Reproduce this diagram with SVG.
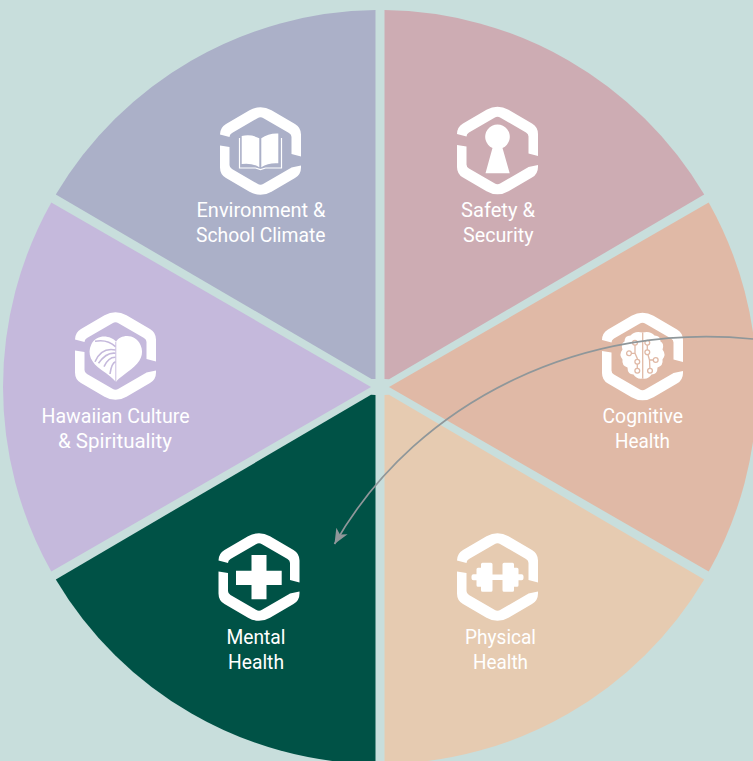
<svg xmlns="http://www.w3.org/2000/svg" xmlns:xlink="http://www.w3.org/1999/xlink" width="753" height="761" viewBox="0 0 753 761">
<style>
.lbl{font-family:"Roboto","Liberation Sans",sans-serif;font-size:20.5px;font-weight:400;fill:#fff}
.ico{fill:#fff}
.conn{fill:none;stroke:#8f979a;stroke-width:1.7}
</style>
<defs>
<g id="frame">
<path class="ico" d="M-40.5,-16.5 Q-40.5,-23.6 -34.5,-27.1 L-11,-40.65 Q0,-47 11,-40.65 L34.5,-27.1 Q40.5,-23.6 40.5,-16.5 L40.5,5.5 L31,3 L31,-14 Q31,-16.6 28.5,-18 L3,-32.8 Q0,-34.5 -3,-32.8 L-28.5,-18 Q-31,-16.6 -31,-14 Z"/>
<path class="ico" d="M40.5,14.5 L40.5,16.5 Q40.5,23.6 34.5,27.1 L11,40.65 Q0,47 -11,40.65 L-34.5,27.1 Q-40.5,23.6 -40.5,16.5 L-40.5,-5.5 L-31,-4 L-31,14 Q-31,16.6 -28.5,18 L-3,32.8 Q0,34.5 3,32.8 L28.5,18 Q30,17.2 31,16.5 Z"/>
</g>
<marker id="arrow" markerUnits="userSpaceOnUse" markerWidth="18" markerHeight="16" refX="15" refY="8" orient="auto">
<path d="M15,8 L0,1.5 L4,8 L0,14.5 Z" fill="#8f979a"/>
</marker>
</defs>
<rect width="753" height="761" fill="#c8dedc"/>
<g id="node-environment">
<path fill="#abb0c8" d="M375.5,10 A377,377 0 0 0 55.8,194.6 L371.5,379 L375.5,379 Z"/>
<use xlink:href="#frame" href="#frame" x="260.5" y="151"/>
<g transform="translate(260.5 151)">
<path class="ico" d="M-18.8,-15 Q-9,-17 -1.2,-12.7 L-1.2,16.3 Q-9,11.5 -18.8,13 Z"/>
<path class="ico" d="M0.8,-12.7 Q8,-18 17.8,-17.5 L17.8,12.3 Q8,11.5 0.8,16.3 Z"/>
<path d="M-21,-13 V17 H-5 L0,18.5 L5,17 H21 V-13" fill="none" stroke="#fff" stroke-width="1.2"/>
</g>
<text class="lbl" x="196.5" y="217" textLength="129" lengthAdjust="spacingAndGlyphs">Environment &amp;</text>
<text class="lbl" x="196" y="242" textLength="129.5" lengthAdjust="spacingAndGlyphs">School Climate</text>
</g>
<g id="node-safety">
<path fill="#cdacb3" d="M384.5,10 A377,377 0 0 1 704.2,194.6 L389,379.2 L384.5,379 Z"/>
<use xlink:href="#frame" href="#frame" x="497.5" y="150.5"/>
<path class="ico" transform="translate(497.5 150.5)" d="M-5,-2.5 A12.3,12.3 0 1 1 5,-2.5 Q5.5,-1 6,1 L12.2,22.8 L-12,22.8 L-6,1 Q-5.5,-1 -5,-2.5 Z"/>
<text class="lbl" x="461" y="217" textLength="74" lengthAdjust="spacingAndGlyphs">Safety &amp;</text>
<text class="lbl" x="463" y="242" textLength="70.5" lengthAdjust="spacingAndGlyphs">Security</text>
</g>
<g id="node-cognitive">
<path fill="#e0b9a6" d="M708.7,202.4 A377,377 0 0 1 708.7,571.6 L389,387 Z"/>
<use xlink:href="#frame" href="#frame" x="642.5" y="356.5"/>
<g transform="translate(642.5 356.5)">
<path class="ico" d="M0,-24 Q8,-26 12,-21 Q18,-21 18,-15 Q22,-13 20,-7 Q24,-2 20,3 Q21,9 15,11 Q15,18 9,18 Q6,23 0,22 Q-6,23 -9,18 Q-15,18 -15,11 Q-21,9 -20,3 Q-24,-2 -20,-7 Q-22,-13 -18,-15 Q-18,-21 -12,-21 Q-8,-26 0,-24 Z"/>
<g fill="#fff" stroke="#e0b9a6" stroke-width="1.3">
<path fill="none" d="M0.2,-24 V22 M-7.5,-13.8 V-3.2 H-13.5 M-7.5,-3.2 L-5.2,2 V14.2 M4.8,-13.8 V-4.2 L7,3.5 H13.2 M7,3.5 L7.5,14.2"/>
<circle cx="-7.5" cy="-13.8" r="2.4"/><circle cx="-13.5" cy="-3.2" r="2.4"/><circle cx="-5.2" cy="5.2" r="2.4"/><circle cx="-5.2" cy="14.2" r="2.4"/>
<circle cx="4.8" cy="-13.8" r="2.4"/><circle cx="4.8" cy="-4.2" r="2.4"/><circle cx="13.2" cy="3.5" r="2.4"/><circle cx="7.5" cy="14.2" r="2.4"/>
</g>
</g>
<text class="lbl" x="602.5" y="422.5" textLength="80.5" lengthAdjust="spacingAndGlyphs">Cognitive</text>
<text class="lbl" x="615" y="447.5" textLength="55" lengthAdjust="spacingAndGlyphs">Health</text>
</g>
<g id="node-physical">
<path fill="#e6cbb1" d="M384.5,764 A377,377 0 0 0 704.2,579.4 L389,394.8 L384.5,395 Z"/>
<use xlink:href="#frame" href="#frame" x="497.5" y="577"/>
<path class="ico" transform="translate(497.5 577.3)" d="M-26,-1 Q-26,-3 -24,-3 H-21 V-8 Q-21,-9.5 -19.5,-9.5 H-16.5 V-13 Q-16.5,-14.5 -15,-14.5 H-6.5 Q-5,-14.5 -5,-13 V-2.7 H5 V-13 Q5,-14.5 6.5,-14.5 H15 Q16.5,-14.5 16.5,-13 V-9.5 H19.5 Q21,-9.5 21,-8 V-3 H24 Q26,-3 26,-1 V1 Q26,3 24,3 H21 V8 Q21,9.5 19.5,9.5 H16.5 V13 Q16.5,14.5 15,14.5 H6.5 Q5,14.5 5,13 V2.7 H-5 V13 Q-5,14.5 -6.5,14.5 H-15 Q-16.5,14.5 -16.5,13 V9.5 H-19.5 Q-21,9.5 -21,8 V3 H-24 Q-26,3 -26,1 Z"/>
<text class="lbl" x="465" y="644" textLength="71" lengthAdjust="spacingAndGlyphs">Physical</text>
<text class="lbl" x="473" y="669" textLength="55" lengthAdjust="spacingAndGlyphs">Health</text>
</g>
<g id="node-mental">
<path fill="#005246" d="M375.5,764 A377,377 0 0 1 55.8,579.4 L371,394.8 L375.5,395 Z"/>
<use xlink:href="#frame" href="#frame" x="259" y="577"/>
<path class="ico" d="M251.5,555 H266.5 V570.7 H281.7 V585 H266.5 V599.3 H251.5 V585 H236 V570.7 H251.5 Z"/>
<text class="lbl" x="226.5" y="644" textLength="59" lengthAdjust="spacingAndGlyphs">Mental</text>
<text class="lbl" x="228" y="669" textLength="56" lengthAdjust="spacingAndGlyphs">Health</text>
</g>
<g id="node-hawaiian">
<path fill="#c5b9dc" d="M51.3,202.4 A377,377 0 0 0 51.3,571.6 L371,387 Z"/>
<use xlink:href="#frame" href="#frame" x="115.5" y="356"/>
<g transform="translate(115.5 356)">
<path class="ico" d="M0.5,-14.3 C-4,-20 -18,-23 -24,-12 C-29,-2 -24,7 -14,14 C-8,18 -3,22 0.5,26 C3,22 10,18 16,13 C25,6 29,-2 25,-11 C20,-23 5,-22 0.5,-14.3 Z"/>
<g fill="none" stroke="#c5b9dc" stroke-width="1.6">
<path d="M-20.5,-14.7 Q-8,-17 0,-9.3"/>
<path d="M-20.5,5.7 Q-14,-9 0,-6"/>
<path d="M-17,7.3 Q-9,-4 0,-2.7"/>
<path d="M-11.5,10.7 Q-7,1 0,1.3"/>
<path d="M-5.5,18 Q-4,7 0,5.7"/>
<path stroke-width="0.9" d="M0.3,-14 V26"/>
</g>
</g>
<text class="lbl" x="41.5" y="422.5" textLength="148" lengthAdjust="spacingAndGlyphs">Hawaiian Culture</text>
<text class="lbl" x="58" y="447.5" textLength="114" lengthAdjust="spacingAndGlyphs">&amp; Spirituality</text>
</g>
<g id="connectors">
<path class="conn" marker-end="url(#arrow)" d="M753,339 C590,322 420,395 334.5,544"/>
</g>
</svg>
